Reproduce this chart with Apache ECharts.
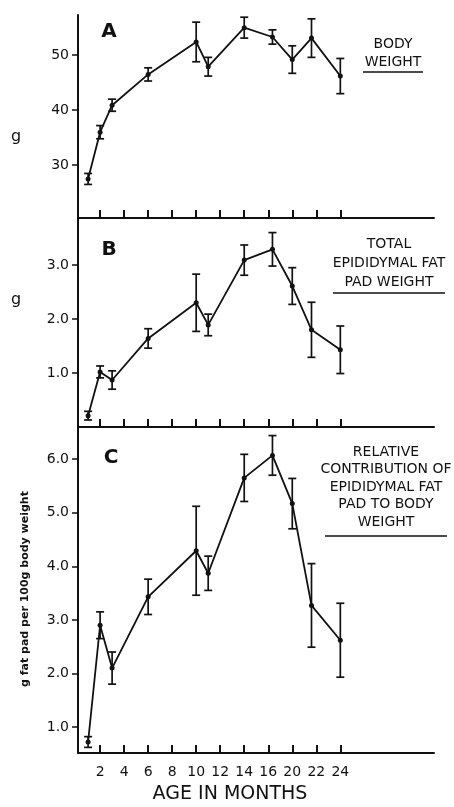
<!DOCTYPE html>
<html>
<head>
<meta charset="UTF-8">
<title>Body weight and epididymal fat pad</title>
<script src="https://cdn.jsdelivr.net/npm/echarts@6/dist/echarts.min.js"></script>
<style>
html,body{margin:0;padding:0;background:#fff}
#main{width:454px;height:807px}
</style>
</head>
<body>
<div id="main"></div>
<script>
// tick labels on the age axis (18 is skipped in the original figure)
var tickAges = [2, 4, 6, 8, 10, 12, 14, 16, 20, 22, 24];
var ages = [1, 2, 3, 6, 10, 11, 14, 16.7, 20, 21.6, 24];

// A - body weight (g)
var bodyWeight    = [27.5, 36.0, 40.9, 46.5, 52.4, 47.9, 55.0, 53.3, 49.2, 53.1, 46.2];
var bodyWeightErr = [1.0, 1.2, 1.1, 1.2, 3.6, 1.7, 1.9, 1.3, 2.5, 3.5, 3.2];
var ticksA = [30, 40, 50];

// B - total epididymal fat pad weight (g)
var fatPad    = [0.21, 1.02, 0.87, 1.64, 2.30, 1.89, 3.09, 3.29, 2.61, 1.80, 1.43];
var fatPadErr = [0.08, 0.11, 0.17, 0.18, 0.53, 0.20, 0.28, 0.31, 0.34, 0.51, 0.44];
var ticksB = [1, 2, 3];

// C - g fat pad per 100 g body weight
var relFat    = [0.72, 2.90, 2.10, 3.43, 4.29, 3.87, 5.65, 6.07, 5.17, 3.27, 2.62];
var relFatErr = [0.10, 0.25, 0.30, 0.33, 0.83, 0.32, 0.44, 0.37, 0.47, 0.78, 0.69];
var ticksC = [1, 2, 3, 4, 5, 6];

// the age axis is drawn evenly per tick label, so map an age onto tick index
function agePos(a) {
  var n = tickAges.length;
  if (a <= tickAges[0]) return (a - tickAges[0]) / 2;
  for (var i = 1; i < n; i++) {
    if (a <= tickAges[i]) return i - 1 + (a - tickAges[i - 1]) / (tickAges[i] - tickAges[i - 1]);
  }
  return n - 1 + (a - tickAges[n - 1]) / 2;
}
var tickPos = tickAges.map(function (a, i) { return i; });

var ink = '#111';
var font = 'DejaVu Sans';

function errRender(params, api) {
  var x = api.value(0);
  var lo = api.coord([x, api.value(1)]);
  var hi = api.coord([x, api.value(2)]);
  var w = 4;
  var st = { stroke: ink, lineWidth: 1.7 };
  return {
    type: 'group',
    children: [
      { type: 'line', shape: { x1: lo[0], y1: lo[1], x2: hi[0], y2: hi[1] }, style: st },
      { type: 'line', shape: { x1: lo[0] - w, y1: lo[1], x2: lo[0] + w, y2: lo[1] }, style: st },
      { type: 'line', shape: { x1: hi[0] - w, y1: hi[1], x2: hi[0] + w, y2: hi[1] }, style: st }
    ]
  };
}

var grids = [
  { left: 78, right: 20, top: 15, height: 203 },
  { left: 78, right: 20, top: 218, height: 209 },
  { left: 78, right: 20, top: 427, height: 326 }
];

function xAx(i, showLabel) {
  return {
    type: 'value', gridIndex: i, min: -0.92, max: 13.9,
    axisLine: { show: true, onZero: false, lineStyle: { color: ink, width: 2 } },
    axisTick: { show: true, inside: true, length: 8, customValues: tickPos, lineStyle: { color: ink, width: 2 } },
    axisLabel: {
      show: showLabel, customValues: tickPos, margin: 12,
      color: ink, fontSize: 14, fontFamily: font,
      formatter: function (v) { return tickAges[Math.round(v)]; }
    },
    splitLine: { show: false }
  };
}

function yAx(i, min, max, ticks, dec) {
  return {
    type: 'value', gridIndex: i, min: min, max: max,
    axisLine: { show: true, onZero: false, lineStyle: { color: ink, width: 2 } },
    axisTick: { show: true, length: 6, customValues: ticks, lineStyle: { color: ink, width: 1.5 } },
    axisLabel: {
      customValues: ticks, margin: 9, color: ink, fontSize: 14, fontFamily: font,
      formatter: function (v) { return v.toFixed(dec); }
    },
    splitLine: { show: false }
  };
}

function lineData(vals) {
  return vals.map(function (v, i) { return [agePos(ages[i]), v]; });
}
function errData(vals, errs) {
  return vals.map(function (v, i) { return [agePos(ages[i]), v - errs[i], v + errs[i]]; });
}

function panelSeries(i, vals, errs) {
  return [
    {
      type: 'custom', xAxisIndex: i, yAxisIndex: i,
      renderItem: errRender, data: errData(vals, errs), z: 3
    },
    {
      type: 'line', xAxisIndex: i, yAxisIndex: i, data: lineData(vals),
      symbol: 'circle', symbolSize: 5,
      lineStyle: { color: ink, width: 1.8 },
      itemStyle: { color: ink },
      z: 4
    }
  ];
}

function txt(x, y, s, size, weight, lh) {
  return {
    type: 'text', x: x, y: y,
    style: {
      text: s, fill: ink, font: (weight || 'normal') + ' ' + size + 'px "' + font + '"',
      align: 'center', verticalAlign: 'middle', lineHeight: lh || size + 4
    }
  };
}
function rule(x1, x2, y) {
  return { type: 'line', shape: { x1: x1, y1: y, x2: x2, y2: y }, style: { stroke: ink, lineWidth: 1.5 } };
}

var chart = echarts.init(document.getElementById('main'));
chart.setOption({
  animation: false,
  backgroundColor: '#fff',
  grid: grids,
  xAxis: [xAx(0, false), xAx(1, false), xAx(2, true)],
  yAxis: [
    yAx(0, 20.4, 57.3, ticksA, 0),
    yAx(1, 0, 3.87, ticksB, 1),
    yAx(2, 0.515, 6.6, ticksC, 1)
  ],
  series: [].concat(
    panelSeries(0, bodyWeight, bodyWeightErr),
    panelSeries(1, fatPad, fatPadErr),
    panelSeries(2, relFat, relFatErr)
  ),
  graphic: [
    txt(109, 32, 'A', 20, 'bold'),
    txt(109, 250, 'B', 20, 'bold'),
    txt(111, 458, 'C', 20, 'bold'),
    txt(16, 137, 'g', 16),
    txt(16, 300, 'g', 16),
    {
      type: 'text', x: 25, y: 589, rotation: Math.PI / 2,
      style: {
        text: 'g fat pad per 100g body weight', fill: ink,
        font: 'bold 11px "' + font + '"', align: 'center', verticalAlign: 'middle'
      }
    },
    txt(393, 53, 'BODY\nWEIGHT', 14, 'normal', 18),
    rule(363, 423, 72),
    txt(389, 263, 'TOTAL\nEPIDIDYMAL FAT\nPAD WEIGHT', 14, 'normal', 19),
    rule(333, 445, 293),
    txt(386, 487, 'RELATIVE\nCONTRIBUTION OF\nEPIDIDYMAL FAT\nPAD TO BODY\nWEIGHT', 14, 'normal', 17.5),
    rule(325, 447, 536),
    txt(230, 794, 'AGE IN MONTHS', 19)
  ]
});
</script>
</body>
</html>
